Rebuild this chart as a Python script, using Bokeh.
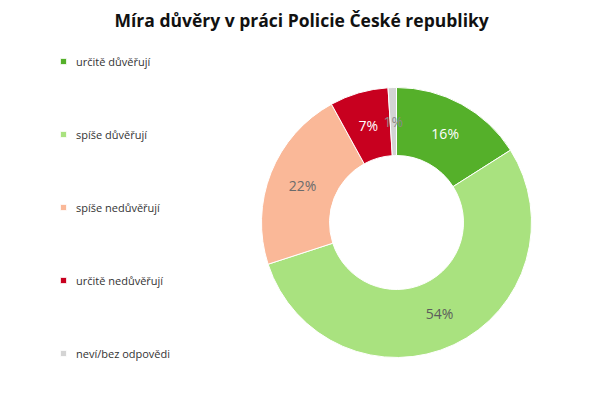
import numpy as np
from bokeh.plotting import figure
from bokeh.models import Range1d, Legend, LegendItem, ColumnDataSource
from bokeh.core.properties import value
from bokeh.embed import file_html
from bokeh.resources import INLINE

title = "Míra důvěry v práci Policie České republiky"
categories = ["určitě důvěřují", "spíše důvěřují", "spíše nedůvěřují", "určitě nedůvěřují", "neví/bez odpovědi"]
values = [16, 54, 22, 7, 1]
colors = ["#55b02a", "#a9e27f", "#fab898", "#c8001f", "#d4d4d4"]
label_colors = ["#ffffff", "#5c5c5c", "#6b6b6b", "#ffffff", "#8a8a8a"]

FW, FH = 600, 356
TOP = 36   # page y of frame top
LEFT = 1   # page x of frame left

p = figure(frame_width=FW, frame_height=FH, title=title, output_backend="svg",
           toolbar_location=None, min_border=0, x_range=Range1d(0, FW), y_range=Range1d(0, FH))
p.axis.visible = False
p.grid.visible = False
p.outline_line_color = None
p.title.align = "left"
p.title.offset = 114
p.title.text_font = "Open Sans"
p.title.text_font_size = "17.5px"
p.title.text_font_style = "bold"
p.title.text_color = "#111111"

def px(page_x):
    return page_x - LEFT

def py(page_y):
    return FH - (page_y - TOP)

cx, cy = px(397), py(222)
r_out, r_in = 135, 67

v = np.array(values, dtype=float)
frac = v / v.sum()
cum_end = np.cumsum(frac)
cum_start = cum_end - frac
start = np.pi / 2 - cum_end * 2 * np.pi
end = np.pi / 2 - cum_start * 2 * np.pi
mid = (start + end) / 2
r_mid = (r_out + r_in) / 2

src = ColumnDataSource(dict(lx=cx + r_mid * np.cos(mid), ly=cy + r_mid * np.sin(mid),
                            lab=[f"{int(x)}%" for x in values], lc=label_colors))

renderers = []
for i in range(len(values)):
    r = p.annular_wedge(x=cx, y=cy, inner_radius=r_in, outer_radius=r_out,
                        start_angle=start[i], end_angle=end[i], fill_color=colors[i],
                        line_color="white", line_width=1)
    renderers.append(r)

p.text(x="lx", y="ly", text="lab", source=src, text_color="lc",
       text_font=value("Open Sans"), text_font_size="14px",
       text_align="center", text_baseline="middle")

items = [LegendItem(label=categories[i], renderers=[renderers[i]]) for i in range(len(values))]
legend = Legend(items=items, location=(px(60), py(360.5)), orientation="vertical",
                glyph_width=8, glyph_height=8, label_height=12, spacing=58,
                label_standoff=9, padding=0, margin=0,
                label_text_font="Open Sans", label_text_font_size="11px",
                label_text_color="#333333", border_line_color=None,
                background_fill_alpha=0)
p.add_layout(legend, "center")

open("out.html", "w").write(file_html(p, INLINE))
